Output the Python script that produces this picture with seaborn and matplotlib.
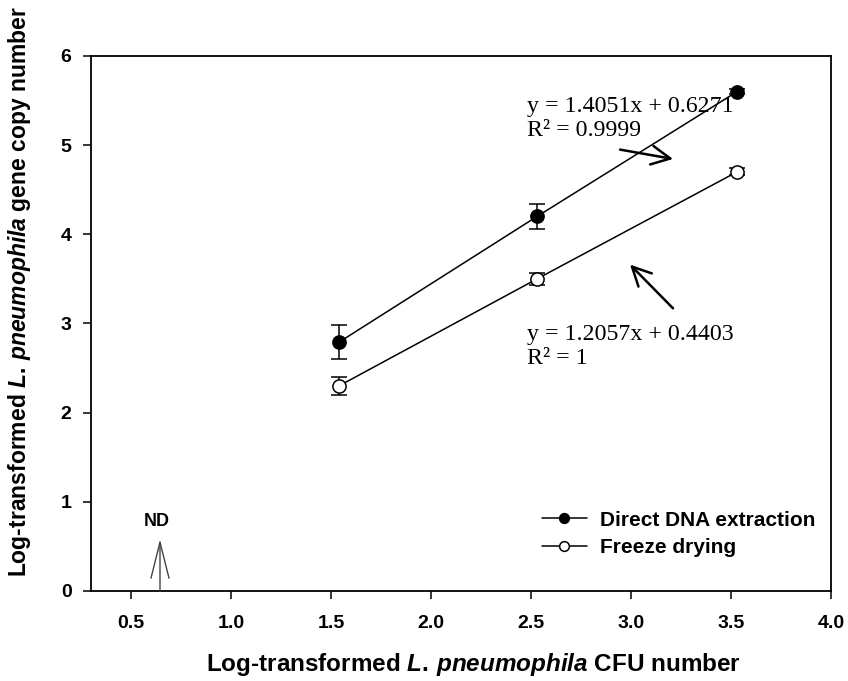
import numpy as np
import pandas as pd
import matplotlib
matplotlib.use("Agg")
import matplotlib.pyplot as plt
import seaborn as sns

# ---- data ----
cfu_log = [1.54, 2.53, 3.53]
direct_y = [2.79, 4.20, 5.60]
direct_err = [0.19, 0.14, 0.03]
freeze_y = [2.30, 3.50, 4.70]
freeze_err = [0.10, 0.07, 0.04]
series_names = ["Direct DNA extraction", "Freeze drying"]
eq_direct = "y = 1.4051x + 0.6271\nR\u00b2 = 0.9999"
eq_freeze = "y = 1.2057x + 0.4403\nR\u00b2 = 1"
xticks = [0.5, 1.0, 1.5, 2.0, 2.5, 3.0, 3.5, 4.0]
yticks = [0, 1, 2, 3, 4, 5, 6]
nd_x = 0.645

df = pd.DataFrame({
    "x": cfu_log * 2,
    "y": direct_y + freeze_y,
    "err": direct_err + freeze_err,
    "method": [series_names[0]] * 3 + [series_names[1]] * 3,
})

sns.set_theme(style="ticks")
plt.rcParams["font.family"] = ["Liberation Sans", "DejaVu Sans"]
plt.rcParams["mathtext.fontset"] = "custom"
plt.rcParams["mathtext.it"] = "Liberation Sans:bold:italic"
plt.rcParams["mathtext.rm"] = "Liberation Sans:bold"
for k in ["text.color", "axes.labelcolor", "xtick.color", "ytick.color", "axes.edgecolor"]:
    plt.rcParams[k] = "black"

fig = plt.figure(figsize=(8.48, 6.81), dpi=100)
ax = fig.add_axes([0.1073, 0.1322, 0.8727, 0.7856])

for name, mfc in zip(series_names, ["black", "white"]):
    sub = df[df["method"] == name]
    ax.errorbar(sub["x"], sub["y"], yerr=sub["err"], fmt="none", ecolor="black",
                elinewidth=1.1, capsize=6, capthick=1.1, zorder=2)
    sns.lineplot(data=sub, x="x", y="y", ax=ax, color="black", linewidth=1.1,
                 marker="o", markersize=9.5, markerfacecolor=mfc,
                 markeredgecolor="black", markeredgewidth=1.1,
                 label=name, zorder=3, errorbar=None, sort=True)

ax.set_xlim(0.3, 4.0)
ax.set_ylim(0, 6)
ax.set_xticks(xticks)
ax.set_xticklabels([f"{t:.1f}" for t in xticks])
ax.set_yticks(yticks)
ax.set_yticklabels([str(t) for t in yticks])
for lab in ax.get_xticklabels() + ax.get_yticklabels():
    lab.set_fontweight("bold")
    lab.set_fontsize(14)
ax.tick_params(axis="x", direction="out", length=6, width=1.1, pad=11, color="black")
ax.tick_params(axis="y", direction="out", length=6, width=1.1, pad=8, color="black")
for sp in ax.spines.values():
    sp.set_visible(True)
    sp.set_linewidth(1.3)
    sp.set_color("black")

ax.set_xlabel(r"Log-transformed $\mathit{L.\,pneumophila}$ CFU number",
              fontsize=17.5, fontweight="bold")
ax.set_ylabel(r"Log-transformed $\mathit{L.\,pneumophila}$ gene copy number",
              fontsize=16.5, fontweight="bold")
ax.xaxis.set_label_coords(0.517, -0.113)
ax.yaxis.set_label_coords(-0.078, 0.559)

# equations
ax.text(2.48, 5.555, eq_direct, family="Liberation Serif", fontsize=17.2,
        ha="left", va="top", linespacing=1.2)
ax.text(2.48, 2.995, eq_freeze, family="Liberation Serif", fontsize=17.2,
        ha="left", va="top", linespacing=1.2)

# arrows
ax.annotate("", xy=(3.21, 4.845), xytext=(2.945, 4.95),
            arrowprops=dict(arrowstyle="->,head_length=0.9,head_width=0.45",
                            lw=1.8, color="black", mutation_scale=15, shrinkA=0, shrinkB=0))
ax.annotate("", xy=(2.995, 3.66), xytext=(3.21, 3.17),
            arrowprops=dict(arrowstyle="->,head_length=0.9,head_width=0.45",
                            lw=1.8, color="black", mutation_scale=15, shrinkA=0, shrinkB=0))

# ND marker
ax.annotate("", xy=(nd_x, 0.58), xytext=(nd_x, 0.0),
            arrowprops=dict(arrowstyle="->,head_length=2.6,head_width=0.65",
                            lw=1.0, color="#444444", mutation_scale=10, shrinkA=0, shrinkB=0))
ax.text(0.63, 0.78, "ND", fontsize=13, fontweight="bold", ha="center", va="center")

leg = ax.legend(loc="upper left", bbox_to_anchor=(0.609, 0.15), frameon=False,
                borderaxespad=0, borderpad=0, handlelength=2.16, handletextpad=0.63,
                labelspacing=0.4, prop={"weight": "bold", "size": 15})
for h in leg.legend_handles:
    h.set_markersize(7)

fig.savefig("out.png", dpi=100)
